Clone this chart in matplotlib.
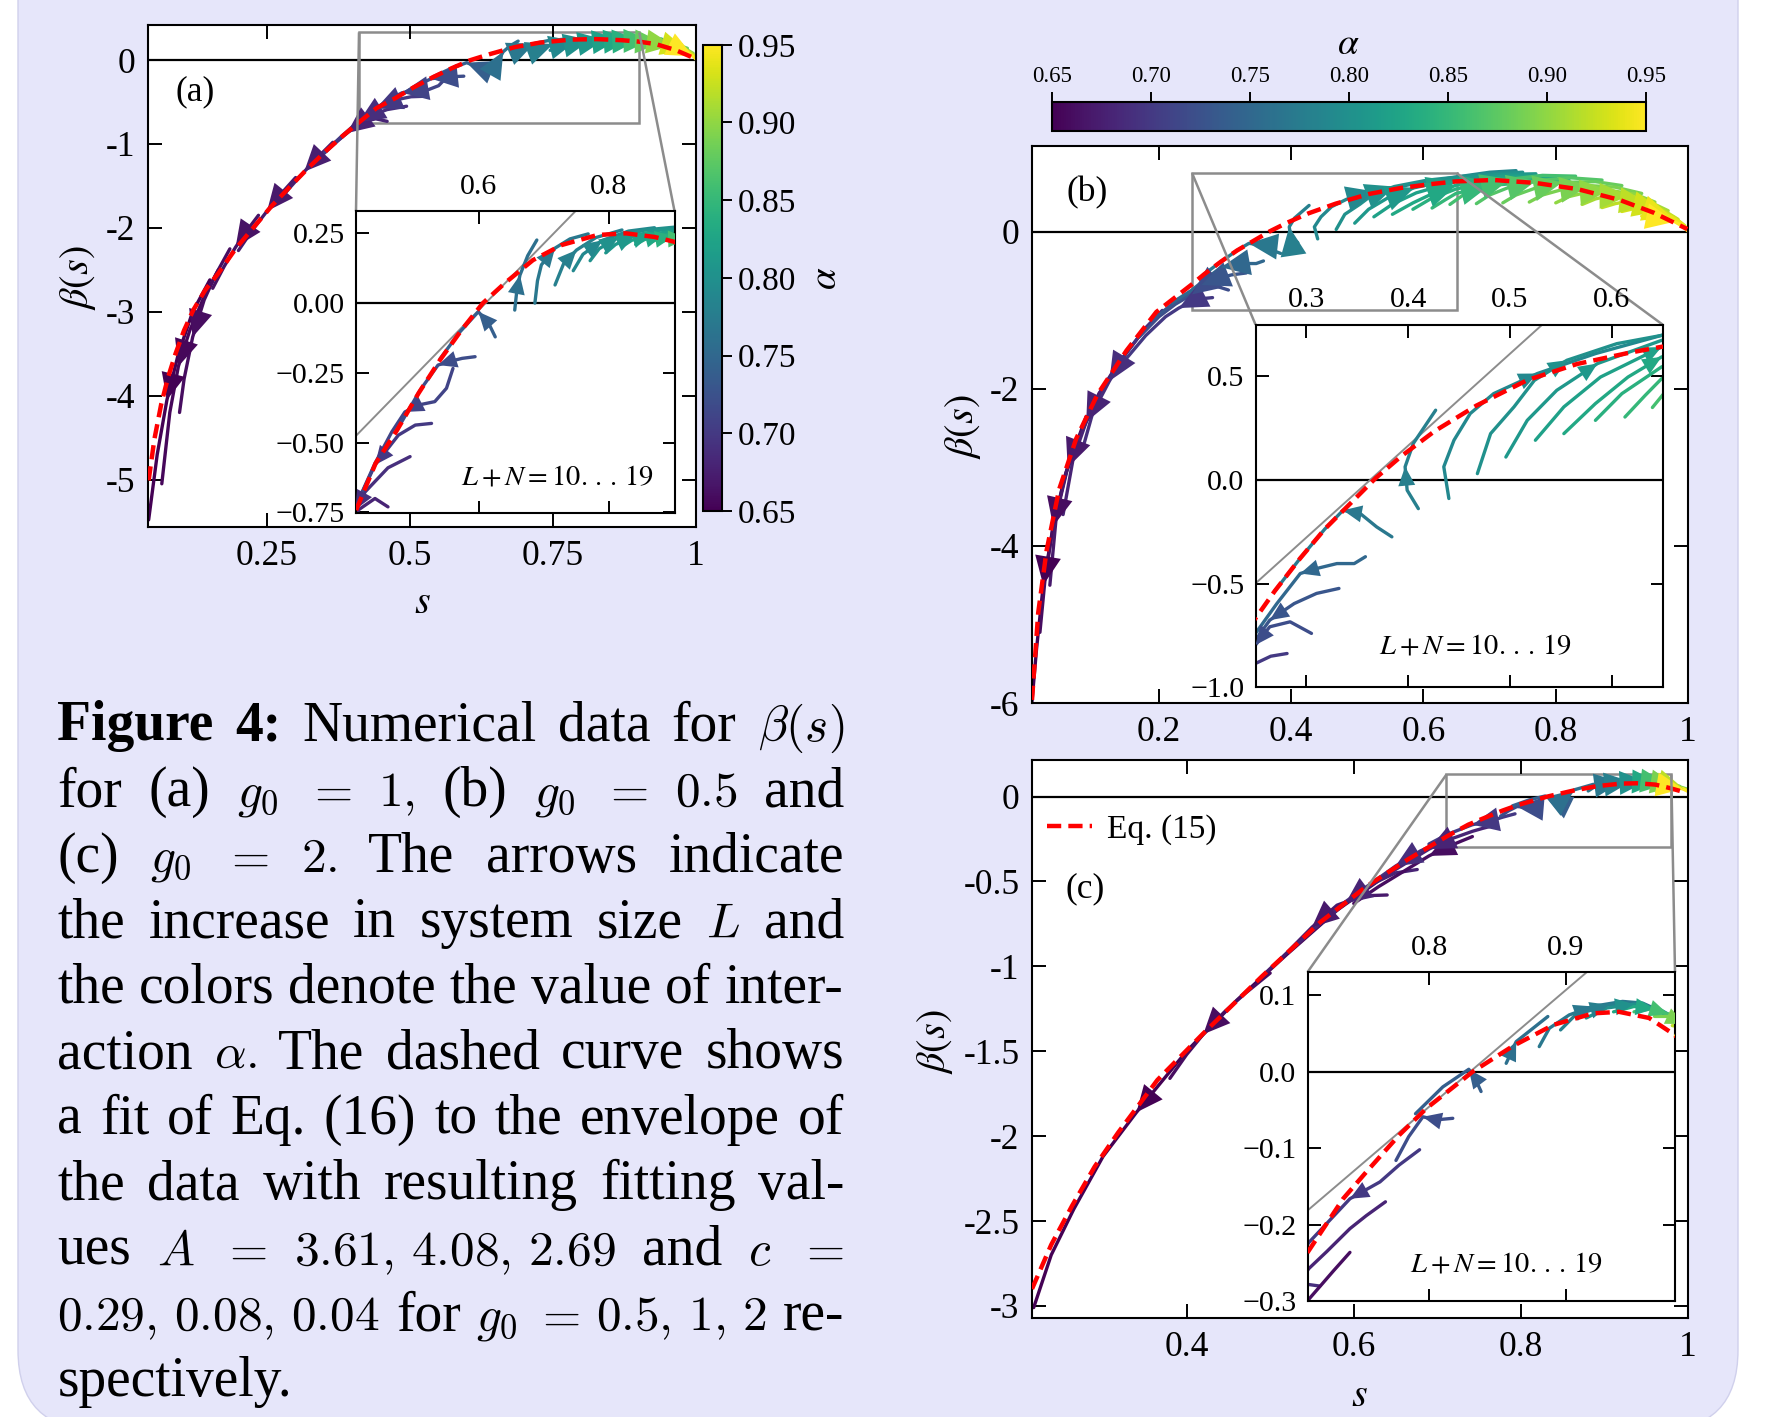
import numpy as np
import matplotlib
matplotlib.use("Agg")
import matplotlib.pyplot as plt
from matplotlib.patches import FancyBboxPatch, FancyArrowPatch
from matplotlib.colors import Normalize
from matplotlib.cm import ScalarMappable
from matplotlib.lines import Line2D
from matplotlib.transforms import IdentityTransform
from mpl_toolkits.axes_grid1.inset_locator import mark_inset

# ---------------------------------------------------------------- data
alpha_ticks = [0.65, 0.70, 0.75, 0.80, 0.85, 0.90, 0.95]

# ---- panel (a), g0 = 1
fit_a_s = [0.043, 0.053, 0.065, 0.077, 0.09, 0.105, 0.121, 0.142, 0.165, 0.195, 0.227, 0.258, 0.29, 0.32,
           0.352, 0.383, 0.413, 0.441, 0.474, 0.507, 0.54, 0.573, 0.606, 0.639, 0.683, 0.727, 0.782, 0.826,
           0.87, 0.90, 0.93, 0.964, 0.998]
fit_a_beta = [-5.01, -4.52, -4.10, -3.78, -3.50, -3.22, -2.98, -2.74, -2.54, -2.25, -1.99, -1.74, -1.51, -1.30,
              -1.09, -0.90, -0.73, -0.574, -0.455, -0.323, -0.204, -0.097, 0.0, 0.07, 0.154, 0.208, 0.244, 0.25,
              0.237, 0.22, 0.19, 0.12, 0.02]
traj_a_alpha = [0.650, 0.655, 0.66, 0.665, 0.67, 0.675, 0.68, 0.69, 0.70, 0.71, 0.72, 0.74, 0.76, 0.77,
                0.78, 0.79, 0.80, 0.81, 0.82, 0.83, 0.84, 0.86, 0.88, 0.90, 0.93, 0.95]
traj_a_s = [
    [0.150, 0.120, 0.095, 0.075, 0.058, 0.043],
    [0.165, 0.14, 0.115, 0.095, 0.080, 0.066],
    [0.185, 0.16, 0.14, 0.12, 0.105, 0.097],
    [0.235, 0.215, 0.195, 0.175, 0.155],
    [0.30, 0.275, 0.25, 0.225, 0.20],
    [0.365, 0.34, 0.315, 0.29, 0.265],
    [0.46, 0.44, 0.415, 0.39, 0.36, 0.33],
    [0.494, 0.46, 0.425, 0.41, 0.38, 0.35],
    [0.527, 0.502, 0.476, 0.44, 0.41, 0.38, 0.35],
    [0.560, 0.550, 0.532, 0.507, 0.486, 0.466, 0.44, 0.41],
    [0.594, 0.574, 0.553, 0.537, 0.51, 0.48],
    [0.625, 0.615, 0.599, 0.57, 0.54],
    [0.655, 0.658, 0.663, 0.675, 0.689],
    [0.686, 0.69, 0.696, 0.717, 0.74, 0.768],
    [0.717, 0.73, 0.75, 0.78, 0.82],
    [0.745, 0.76, 0.79, 0.83, 0.87],
    [0.771, 0.785, 0.815, 0.855, 0.90],
    [0.795, 0.81, 0.84, 0.88, 0.92],
    [0.821, 0.835, 0.865, 0.90, 0.94],
    [0.841, 0.855, 0.885, 0.92, 0.955],
    [0.862, 0.875, 0.90, 0.935, 0.965],
    [0.882, 0.895, 0.92, 0.95, 0.975],
    [0.905, 0.92, 0.94, 0.965, 0.985],
    [0.93, 0.945, 0.96, 0.98, 0.995],
    [0.955, 0.97, 0.985, 0.995, 1.0],
    [0.975, 0.985, 0.995, 1.0],
]
traj_a_beta = [
    [-2.62, -3.0, -3.5, -4.05, -4.7, -5.48],
    [-2.50, -2.82, -3.22, -3.65, -4.2, -5.05],
    [-2.25, -2.56, -2.86, -3.3, -3.8, -4.2],
    [-1.85, -2.03, -2.23, -2.46, -2.72],
    [-1.40, -1.59, -1.80, -2.02, -2.27],
    [-0.98, -1.15, -1.33, -1.52, -1.72],
    [-0.73, -0.70, -0.74, -0.87, -1.04, -1.23],
    [-0.55, -0.59, -0.676, -0.74, -0.92, -1.11],
    [-0.431, -0.437, -0.473, -0.58, -0.73, -0.91, -1.10],
    [-0.234, -0.305, -0.353, -0.365, -0.39, -0.461, -0.574, -0.73],
    [-0.192, -0.198, -0.210, -0.222, -0.31, -0.43],
    [-0.121, -0.073, -0.031, -0.105, -0.20],
    [-0.025, 0.04, 0.10, 0.17, 0.226],
    [0.0, 0.08, 0.137, 0.197, 0.23, 0.248],
    [0.065, 0.14, 0.19, 0.235, 0.262],
    [0.116, 0.175, 0.225, 0.258, 0.27],
    [0.152, 0.195, 0.237, 0.262, 0.272],
    [0.18, 0.21, 0.243, 0.262, 0.266],
    [0.204, 0.225, 0.247, 0.258, 0.25],
    [0.21, 0.228, 0.245, 0.248, 0.23],
    [0.216, 0.23, 0.24, 0.235, 0.21],
    [0.222, 0.23, 0.232, 0.22, 0.18],
    [0.21, 0.215, 0.21, 0.19, 0.14],
    [0.19, 0.19, 0.175, 0.14, 0.08],
    [0.15, 0.14, 0.11, 0.06, 0.02],
    [0.10, 0.08, 0.045, 0.01],
]
tangent_a_s = [0.40, 0.76]
tangent_a_beta = [-0.501, 0.357]

# ---- panel (b), g0 = 0.5
fit_b_s = [0.008, 0.0174, 0.030, 0.049, 0.075, 0.107, 0.151, 0.196, 0.251, 0.269, 0.294, 0.318, 0.343,
           0.368, 0.393, 0.426, 0.467, 0.517, 0.566, 0.616, 0.649, 0.706, 0.769, 0.833, 0.897, 0.948, 0.999]
fit_b_beta = [-5.96, -4.85, -4.06, -3.28, -2.63, -2.07, -1.51, -1.02, -0.66, -0.535, -0.377, -0.237, -0.114,
              0.009, 0.114, 0.236, 0.359, 0.482, 0.56, 0.613, 0.643, 0.661, 0.624, 0.545, 0.406, 0.245, 0.036]
traj_b_alpha = [0.65, 0.66, 0.67, 0.68, 0.69, 0.70, 0.72, 0.73, 0.75, 0.77, 0.78, 0.79, 0.80, 0.81,
                0.82, 0.83, 0.84, 0.85, 0.86, 0.87, 0.88, 0.89, 0.90, 0.91, 0.92, 0.93, 0.94, 0.95]
traj_b_s = [
    [0.09, 0.06, 0.04, 0.025, 0.015, 0.008],
    [0.11, 0.08, 0.058, 0.04, 0.028, 0.02],
    [0.14, 0.11, 0.085, 0.062, 0.045, 0.035],
    [0.17, 0.14, 0.115, 0.09, 0.07, 0.055],
    [0.205, 0.18, 0.15, 0.125, 0.10, 0.085],
    [0.281, 0.265, 0.25, 0.23, 0.21, 0.18, 0.15],
    [0.305, 0.284, 0.264, 0.25, 0.225, 0.20, 0.17],
    [0.332, 0.310, 0.288, 0.264, 0.25, 0.22, 0.19],
    [0.358, 0.347, 0.330, 0.310, 0.294, 0.271, 0.25, 0.22],
    [0.384, 0.369, 0.353, 0.336, 0.318, 0.294, 0.269],
    [0.410, 0.399, 0.397, 0.405, 0.427],
    [0.440, 0.435, 0.445, 0.461, 0.484, 0.527, 0.584, 0.649, 0.70, 0.74],
    [0.468, 0.481, 0.504, 0.524, 0.556, 0.605, 0.649, 0.70, 0.75],
    [0.496, 0.517, 0.546, 0.586, 0.649, 0.71, 0.77],
    [0.525, 0.553, 0.589, 0.649, 0.72, 0.79],
    [0.553, 0.584, 0.616, 0.649, 0.72, 0.80],
    [0.584, 0.610, 0.649, 0.70, 0.76, 0.82],
    [0.613, 0.633, 0.649, 0.70, 0.77, 0.84],
    [0.64, 0.66, 0.69, 0.73, 0.78, 0.83],
    [0.68, 0.70, 0.73, 0.77, 0.82, 0.87],
    [0.72, 0.74, 0.77, 0.81, 0.86, 0.90],
    [0.76, 0.78, 0.81, 0.85, 0.89, 0.93],
    [0.80, 0.82, 0.85, 0.88, 0.92, 0.95],
    [0.84, 0.86, 0.88, 0.91, 0.94, 0.97],
    [0.87, 0.89, 0.91, 0.94, 0.96, 0.985],
    [0.90, 0.92, 0.94, 0.96, 0.98, 0.995],
    [0.93, 0.945, 0.96, 0.975, 0.99, 1.0],
    [0.95, 0.965, 0.98, 0.99, 1.0],
]
traj_b_beta = [
    [-2.35, -3.05, -3.75, -4.5, -5.3, -5.98],
    [-2.05, -2.6, -3.1, -3.75, -4.4, -5.1],
    [-1.65, -2.05, -2.5, -3.0, -3.6, -4.5],
    [-1.33, -1.66, -2.0, -2.42, -2.9, -3.6],
    [-1.00, -1.22, -1.55, -1.9, -2.3, -2.75],
    [-0.837, -0.85, -0.885, -0.97, -1.08, -1.32, -1.62],
    [-0.74, -0.684, -0.708, -0.796, -0.92, -1.08, -1.34],
    [-0.523, -0.547, -0.596, -0.676, -0.772, -0.92, -1.12],
    [-0.370, -0.403, -0.403, -0.427, -0.451, -0.596, -0.74, -0.90],
    [-0.274, -0.226, -0.162, -0.146, -0.237, -0.377, -0.535],
    [-0.138, -0.049, 0.064, 0.176, 0.337],
    [-0.089, 0.064, 0.192, 0.321, 0.417, 0.514, 0.610, 0.698, 0.76, 0.78],
    [0.031, 0.224, 0.353, 0.481, 0.578, 0.658, 0.698, 0.74, 0.76],
    [0.111, 0.288, 0.433, 0.562, 0.674, 0.73, 0.74],
    [0.192, 0.353, 0.497, 0.642, 0.71, 0.71],
    [0.224, 0.369, 0.497, 0.594, 0.68, 0.69],
    [0.288, 0.417, 0.546, 0.63, 0.67, 0.66],
    [0.304, 0.409, 0.489, 0.59, 0.64, 0.62],
    [0.35, 0.47, 0.58, 0.67, 0.72, 0.71],
    [0.36, 0.47, 0.57, 0.65, 0.69, 0.66],
    [0.37, 0.47, 0.56, 0.63, 0.64, 0.59],
    [0.38, 0.47, 0.54, 0.59, 0.57, 0.49],
    [0.37, 0.45, 0.51, 0.53, 0.48, 0.38],
    [0.35, 0.42, 0.46, 0.46, 0.39, 0.27],
    [0.31, 0.36, 0.39, 0.36, 0.29, 0.16],
    [0.26, 0.30, 0.31, 0.27, 0.18, 0.08],
    [0.20, 0.23, 0.23, 0.19, 0.11, 0.03],
    [0.14, 0.155, 0.13, 0.08, 0.01],
]
tangent_b_s = [0.24, 0.56]
tangent_b_beta = [-0.543, 0.875]

# ---- panel (c), g0 = 2
fit_c_s = [0.215, 0.238, 0.263, 0.29, 0.318, 0.365, 0.419, 0.49, 0.56, 0.616, 0.665, 0.711, 0.737, 0.754,
           0.778, 0.798, 0.832, 0.861, 0.891, 0.92, 0.939, 0.961, 0.978, 0.998]
fit_c_beta = [-2.90, -2.64, -2.41, -2.18, -1.98, -1.67, -1.40, -1.06, -0.74, -0.527, -0.37, -0.236, -0.166,
              -0.131, -0.083, -0.048, 0.0, 0.033, 0.061, 0.076, 0.078, 0.070, 0.050, 0.022]
traj_c_alpha = [0.65, 0.66, 0.67, 0.68, 0.69, 0.66, 0.68, 0.70, 0.72, 0.74, 0.76, 0.77, 0.78,
                0.80, 0.83, 0.86, 0.89, 0.92, 0.95]
traj_c_s = [
    [0.64, 0.58, 0.52, 0.46, 0.40, 0.34, 0.30, 0.265, 0.238, 0.217],
    [0.50, 0.47, 0.445, 0.42, 0.40, 0.38],
    [0.64, 0.61, 0.58, 0.55, 0.52, 0.49],
    [0.676, 0.65, 0.62, 0.59, 0.56, 0.53],
    [0.72, 0.70, 0.68, 0.65, 0.62, 0.59],
    [0.742, 0.73, 0.712, 0.69, 0.66, 0.63, 0.60],
    [0.768, 0.754, 0.742, 0.725, 0.712, 0.69, 0.66, 0.63, 0.60, 0.57],
    [0.793, 0.778, 0.764, 0.742, 0.712, 0.69],
    [0.8173, 0.8051, 0.7954, 0.785, 0.7757],
    [0.838, 0.8332, 0.829, 0.81, 0.79],
    [0.8564, 0.8637, 0.8869],
    [0.8806, 0.888, 0.9026, 0.9197, 0.9416, 0.9563, 0.9807],
    [0.8962, 0.9072, 0.9316, 0.9563, 0.9856],
    [0.915, 0.93, 0.95, 0.97, 0.985],
    [0.935, 0.95, 0.965, 0.98],
    [0.95, 0.963, 0.975, 0.99],
    [0.965, 0.975, 0.987, 0.998],
    [0.978, 0.986, 0.995, 1.0],
    [0.988, 0.994, 1.0],
]
traj_c_beta = [
    [-0.46, -0.67, -0.93, -1.20, -1.50, -1.86, -2.12, -2.43, -2.70, -3.01],
    [-1.04, -1.16, -1.27, -1.40, -1.52, -1.66],
    [-0.58, -0.585, -0.64, -0.77, -0.92, -1.06],
    [-0.43, -0.45, -0.52, -0.63, -0.75, -0.88],
    [-0.28, -0.275, -0.32, -0.41, -0.515, -0.62],
    [-0.236, -0.26, -0.297, -0.35, -0.44, -0.53, -0.63],
    [-0.170, -0.188, -0.205, -0.235, -0.257, -0.31, -0.40, -0.49, -0.59, -0.70],
    [-0.102, -0.122, -0.144, -0.166, -0.223, -0.28],
    [-0.061, -0.063, -0.059, -0.085, -0.116],
    [-0.026, -0.007, 0.003, -0.02, -0.055],
    [0.0108, 0.0391, 0.0719],
    [0.0326, 0.0566, 0.074, 0.0851, 0.0916, 0.0894, 0.0698],
    [0.0544, 0.0741, 0.0872, 0.0872, 0.065],
    [0.07, 0.083, 0.088, 0.08, 0.065],
    [0.078, 0.085, 0.082, 0.07],
    [0.078, 0.082, 0.075, 0.06],
    [0.072, 0.072, 0.062, 0.045],
    [0.06, 0.058, 0.045, 0.035],
    [0.05, 0.045, 0.03],
]
tangent_c_s = [0.70, 0.93]
tangent_c_beta = [-0.198, 0.152]

# caption text, one list of words per printed line
caption_lines = [
    ["Figure", "4:", "Numerical", "data", "for", r"$\beta(s)$"],
    ["for", "(a)", r"$g_0$", r"$=$", r"$1,$", "(b)", r"$g_0$", r"$=$", r"$0.5$", "and"],
    ["(c)", r"$g_0$", r"$=$", r"$2.$", "The", "arrows", "indicate"],
    ["the", "increase", "in", "system", "size", r"$L$", "and"],
    ["the", "colors", "denote", "the", "value", "of", "inter-"],
    ["action", r"$\alpha.$", "The", "dashed", "curve", "shows"],
    ["a", "fit", "of", "Eq.", "(16)", "to", "the", "envelope", "of"],
    ["the", "data", "with", "resulting", "fitting", "val-"],
    ["ues", r"$A$", r"$=$", r"$3.61,\,4.08,\,2.69$", "and", r"$c$", r"$=$"],
    [r"$0.29,\,0.08,\,0.04$", "for", r"$g_0$", r"$=$", r"$0.5,\,1,\,2$", "re-"],
    ["spectively."],
]

# ---------------------------------------------------------------- style
plt.rcParams['font.family'] = ['Liberation Serif', 'DejaVu Serif']
plt.rcParams['mathtext.fontset'] = 'stix'

W, H = 1778, 1417
fig = plt.figure(figsize=(W / 100, H / 100), dpi=100)
fig.patch.set_facecolor('white')

bg = FancyBboxPatch((18, -13), 1720, 1530, boxstyle="round,pad=0,rounding_size=80",
                    transform=IdentityTransform(), facecolor='#e6e6fa', edgecolor='#d0d0ec',
                    lw=1.0, zorder=-10)
fig.add_artist(bg)

cmap = matplotlib.colormaps['viridis']
norm = Normalize(0.65, 0.95)
RED_DASH = (0, (3.2, 1.6))


def add_ax(l, t, r, b):
    return fig.add_axes([l / W, 1 - b / H, (r - l) / W, (b - t) / H])


def ftext(x, y, s, **kw):
    return fig.text(x / W, 1 - y / H, s, **kw)


def draw_data(ax, alphas, ss, bs, fs, fb, ms, tan=None):
    ax.axhline(0, color='k', lw=1.6, zorder=1)
    if tan is not None:
        ax.plot(tan[0], tan[1], color='0.55', lw=1.4, zorder=1.8)
    for a, s, b in zip(alphas, ss, bs):
        c = cmap(norm(a))
        ax.plot(s, b, color=c, lw=2.4, solid_capstyle='round', solid_joinstyle='round', zorder=2)
        k = len(s) // 2
        ax.add_patch(FancyArrowPatch((s[k - 1], b[k - 1]), (s[k], b[k]),
                                     arrowstyle='-|>,head_length=0.8,head_width=0.36',
                                     mutation_scale=ms, color=c, lw=0, shrinkA=0, shrinkB=0,
                                     zorder=3))
    ax.plot(fs, fb, color='red', ls=RED_DASH, lw=3.2, zorder=4)


def style_main(ax):
    ax.set_facecolor('white')
    ax.tick_params(direction='in', top=True, right=True, length=10, width=1.4,
                   labelsize=25.5, pad=9)
    for sp in ax.spines.values():
        sp.set_linewidth(1.5)


def style_inset(ax):
    ax.set_facecolor('white')
    ax.tick_params(direction='in', top=True, right=True, bottom=True, left=True,
                   labeltop=True, labelbottom=False, length=9, width=1.4,
                   labelsize=21.5, pad=8)
    for sp in ax.spines.values():
        sp.set_linewidth(1.5)


def fmt_main(v):
    return ('%g' % v)


def fmt_in(v, nd):
    return ('%.*f' % (nd, v)).replace('-', '\u2212')


# ---------------------------------------------------------------- panel (a)
ax_a = add_ax(147.5, 25, 696, 527)
draw_data(ax_a, traj_a_alpha, traj_a_s, traj_a_beta, fit_a_s, fit_a_beta, 24)
ax_a.set_xlim(0.041, 1.0)
ax_a.set_ylim(-5.565, 0.418)
xt = [0.25, 0.5, 0.75, 1.0]
ax_a.set_xticks(xt, [fmt_main(v) for v in xt])
yt = [0, -1, -2, -3, -4, -5]
ax_a.set_yticks(yt, [fmt_main(v) for v in yt])
style_main(ax_a)

cax_a = add_ax(702.6, 44.8, 722, 511)
sm = ScalarMappable(norm=norm, cmap=cmap)
cb_a = fig.colorbar(sm, cax=cax_a, orientation='vertical', ticks=alpha_ticks)
cb_a.ax.set_yticklabels(['%.2f' % t for t in alpha_ticks])
cb_a.ax.tick_params(labelsize=24, length=7, width=1.4, direction='out', pad=4)
cb_a.outline.set_linewidth(1.5)

ins_a = add_ax(356, 211, 674.5, 513)
draw_data(ins_a, traj_a_alpha, traj_a_s, traj_a_beta, fit_a_s, fit_a_beta, 17,
          tan=(tangent_a_s, tangent_a_beta))
ins_a.set_xlim(0.4108, 0.9008)
ins_a.set_ylim(-0.752, 0.33)
ins_a.set_xticks([0.6, 0.8], ['0.6', '0.8'])
yt = [0.25, 0.0, -0.25, -0.5, -0.75]
ins_a.set_yticks(yt, [fmt_in(v, 2) for v in yt])
style_inset(ins_a)
mark_inset(ax_a, ins_a, loc1=2, loc2=1, fc='none', ec='0.55', lw=1.8)

# ---------------------------------------------------------------- panel (b)
ax_b = add_ax(1032, 146, 1688, 703)
draw_data(ax_b, traj_b_alpha, traj_b_s, traj_b_beta, fit_b_s, fit_b_beta, 26)
ax_b.set_xlim(0.008, 1.0)
ax_b.set_ylim(-6.0, 1.094)
xt = [0.2, 0.4, 0.6, 0.8, 1.0]
ax_b.set_xticks(xt, [fmt_main(v) for v in xt])
yt = [0, -2, -4, -6]
ax_b.set_yticks(yt, [fmt_main(v) for v in yt])
style_main(ax_b)

cax_b = add_ax(1052, 102, 1646, 131)
cb_b = fig.colorbar(sm, cax=cax_b, orientation='horizontal', ticks=alpha_ticks)
cax_b.xaxis.set_ticks_position('top')
cax_b.xaxis.set_label_position('top')
cb_b.ax.set_xticklabels(['%.2f' % t for t in alpha_ticks])
cb_b.ax.tick_params(labelsize=16.5, length=7, width=1.4, direction='out', pad=4)
cb_b.outline.set_linewidth(1.5)

ins_b = add_ax(1255.5, 324.6, 1662.6, 687.3)
draw_data(ins_b, traj_b_alpha, traj_b_s, traj_b_beta, fit_b_s, fit_b_beta, 17,
          tan=(tangent_b_s, tangent_b_beta))
ins_b.set_xlim(0.25, 0.65)
ins_b.set_ylim(-1.0, 0.75)
xt = [0.3, 0.4, 0.5, 0.6]
ins_b.set_xticks(xt, ['%.1f' % v for v in xt])
yt = [0.5, 0.0, -0.5, -1.0]
ins_b.set_yticks(yt, [fmt_in(v, 1) for v in yt])
style_inset(ins_b)
mark_inset(ax_b, ins_b, loc1=2, loc2=1, fc='none', ec='0.55', lw=1.8)

# ---------------------------------------------------------------- panel (c)
ax_c = add_ax(1032, 760, 1688, 1318.3)
draw_data(ax_c, traj_c_alpha, traj_c_s, traj_c_beta, fit_c_s, fit_c_beta, 24)
ax_c.set_xlim(0.215, 1.0)
ax_c.set_ylim(-3.073, 0.215)
xt = [0.4, 0.6, 0.8, 1.0]
ax_c.set_xticks(xt, [fmt_main(v) for v in xt])
yt = [0, -0.5, -1, -1.5, -2, -2.5, -3]
ax_c.set_yticks(yt, [fmt_main(v) for v in yt])
style_main(ax_c)
leg_handle = Line2D([], [], color='red', ls=RED_DASH, lw=3.2)
ax_c.legend([leg_handle], ['Eq. (15)'], loc='center left',
            bbox_to_anchor=((1047 - 1032) / 656, 1 - (829.5 - 760) / 558.3),
            frameon=False, fontsize=24, handlelength=1.35, handletextpad=0.45,
            borderpad=0, borderaxespad=0)

ins_c = add_ax(1307.6, 972, 1675, 1301.4)
draw_data(ins_c, traj_c_alpha, traj_c_s, traj_c_beta, fit_c_s, fit_c_beta, 17,
          tan=(tangent_c_s, tangent_c_beta))
ins_c.set_xlim(0.711, 0.98)
ins_c.set_ylim(-0.30, 0.13)
ins_c.set_xticks([0.8, 0.9], ['0.8', '0.9'])
yt = [0.1, 0.0, -0.1, -0.2, -0.3]
ins_c.set_yticks(yt, [fmt_in(v, 1) for v in yt])
style_inset(ins_c)
mark_inset(ax_c, ins_c, loc1=2, loc2=1, fc='none', ec='0.55', lw=1.8)

# ---------------------------------------------------------------- labels
lab = dict(fontsize=29, ha='center', va='center')
ftext(77.5, 278, r'$\beta(s)$', rotation=90, **lab)
ftext(963, 427, r'$\beta(s)$', rotation=90, **lab)
ftext(935, 1042, r'$\beta(s)$', rotation=90, **lab)
ftext(422, 603, r'$s$', **lab)
ftext(1359, 1396, r'$s$', **lab)
ftext(827, 278, r'$\alpha$', rotation=90, fontsize=28, ha='center', va='center')
ftext(1348, 45, r'$\alpha$', fontsize=27, ha='center', va='center')
ftext(195, 92, '(a)', fontsize=25.5, ha='center', va='center')
ftext(1087, 193, '(b)', fontsize=25.5, ha='center', va='center')
ftext(1085, 889, '(c)', fontsize=25.5, ha='center', va='center')
for (x, y) in [(557, 478), (1475, 647), (1506, 1265)]:
    ftext(x, y, r'$L+N=10.\,.\,.\,19$', fontsize=20.5, ha='center', va='center')

# ---------------------------------------------------------------- caption
renderer = fig.canvas.get_renderer()
text_fs, math_fs = 40.0, 35.5
x_left, x_right = 57.4, 844.0
base0, dy = 740.5, 65.55
for i, words in enumerate(caption_lines):
    y = base0 + i * dy
    objs = []
    for j, w in enumerate(words):
        bold = (i == 0 and j < 2)
        fs = math_fs if w.startswith('$') else text_fs
        t = ftext(0, y, w, fontsize=fs, fontweight='bold' if bold else 'normal',
                  math_fontfamily='cm', ha='left', va='baseline')
        objs.append(t)
    widths = [t.get_window_extent(renderer).width for t in objs]
    if i < len(caption_lines) - 1 and len(objs) > 1:
        gap = (x_right - x_left - sum(widths)) / (len(objs) - 1)
    else:
        gap = 0.25 * text_fs * 100 / 72
    x = x_left
    for t, w in zip(objs, widths):
        t.set_x(x / W)
        x += w + gap

fig.savefig('out.png', dpi=100, facecolor='white')
